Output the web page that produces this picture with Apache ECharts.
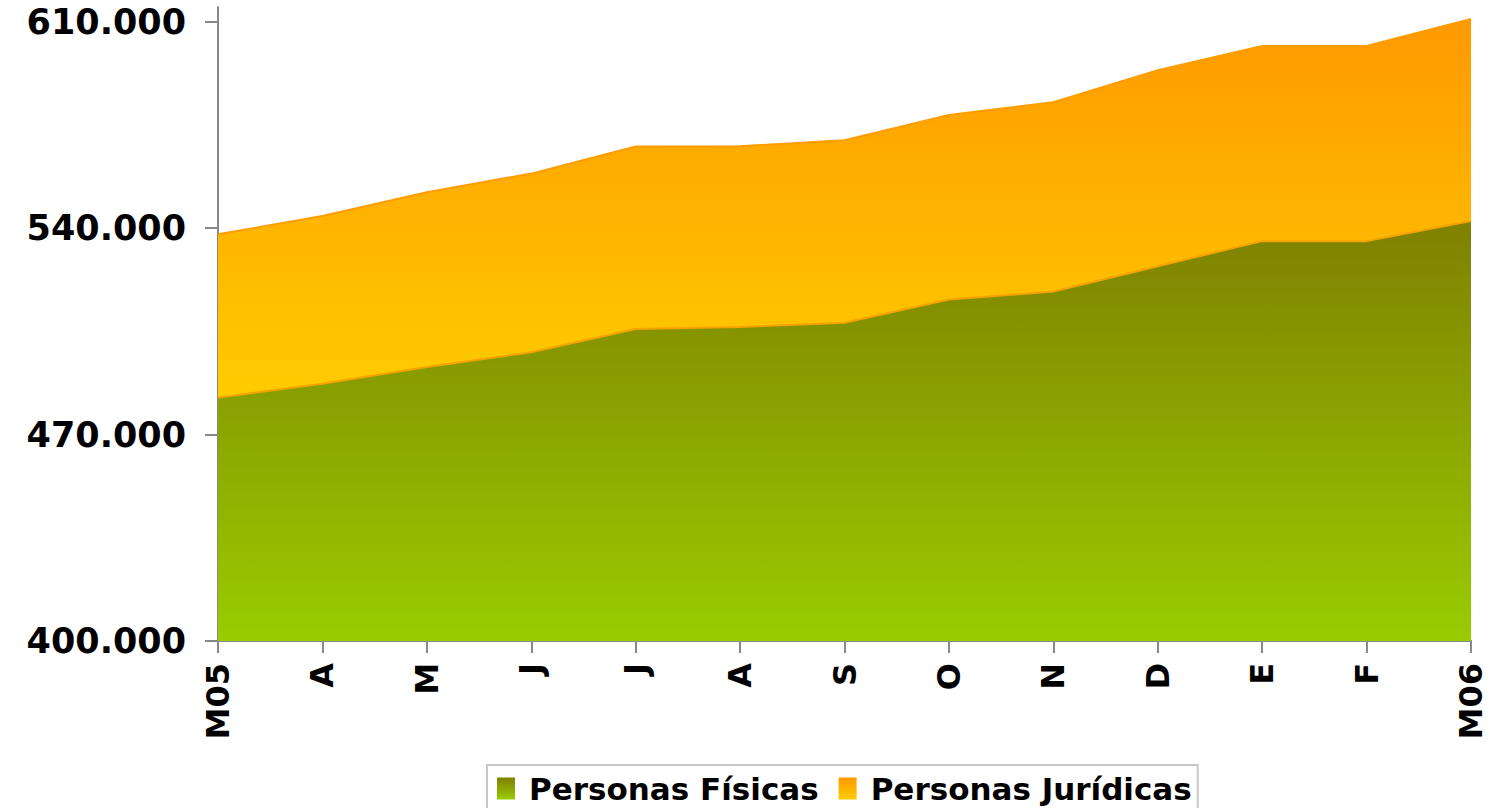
<!DOCTYPE html>
<html>
<head>
<meta charset="utf-8">
<script src="https://cdn.jsdelivr.net/npm/echarts@6/dist/echarts.min.js"></script>
<style>
  html, body { margin: 0; padding: 0; background: #fff; }
  #chart { width: 1490px; height: 808px; }
</style>
</head>
<body>
<div id="chart"></div>
<script>
// meses (marzo 05 a marzo 06)
const meses = ['M05', 'A', 'M', 'J', 'J', 'A', 'S', 'O', 'N', 'D', 'E', 'F', 'M06']
// valores
const personasFisicas = [482600, 487200, 492900, 497900, 505800, 506500, 507900, 515800, 518500, 527100, 535600, 535600, 542400]
const personasJuridicas = [55300, 56900, 59300, 60600, 61900, 61300, 61900, 62600, 64200, 66500, 66200, 66200, 68500]
// marcas del eje Y
const yTicks = [400000, 470000, 540000, 610000]

const fuente = 'DejaVu Sans'

// formato 610.000
function formatoMiles(v) {
    return String(v).replace(/\B(?=(\d{3})+(?!\d))/g, '.')
}

function degradado(arriba, abajo) {
    return new echarts.graphic.LinearGradient(0, 0, 0, 1, [
        { offset: 0, color: arriba },
        { offset: 1, color: abajo }
    ])
}

const verde = degradado('#7f8000', '#99cc00')
const naranja = degradado('#ff9900', '#ffcc00')

let chart = echarts.init(document.getElementById('chart'), null, { renderer: 'svg' })
chart.setOption({
    animation: false,
    grid: {
        left: 218,
        right: 19,
        top: 7,
        bottom: 167,
        outerBoundsMode: 'none'
    },
    legend: {
        left: 487,
        top: 765,
        icon: 'rect',
        itemWidth: 18,
        itemHeight: 22,
        itemGap: 20,
        padding: [8, 6, 14, 10],
        borderColor: '#c8c8c8',
        borderWidth: 2,
        textStyle: {
            fontFamily: fuente,
            fontWeight: 'bold',
            fontSize: 31,
            color: '#000',
            padding: [0, 0, 0, 9]
        },
        data: ['Personas Físicas', 'Personas Jurídicas']
    },
    xAxis: {
        type: 'category',
        boundaryGap: false,     // los puntos en los bordes
        data: meses,
        axisLine: { lineStyle: { color: '#888', width: 2 } },
        axisTick: { length: 12, lineStyle: { color: '#888', width: 2 } },
        axisLabel: {
            rotate: 90,
            margin: 22,
            interval: 0,
            fontFamily: fuente,
            fontWeight: 'bold',
            fontSize: 32,
            color: '#000'
        },
        splitLine: { show: false }
    },
    yAxis: {
        type: 'value',
        min: 400000,
        max: 615000,
        interval: 70000,
        axisLine: { show: true, lineStyle: { color: '#888', width: 2 } },
        axisTick: {
            show: true,
            length: 13,
            customValues: yTicks,
            lineStyle: { color: '#888', width: 2 }
        },
        axisLabel: {
            customValues: yTicks,
            margin: 32,
            fontFamily: fuente,
            fontWeight: 'bold',
            fontSize: 35,
            color: '#000',
            formatter: formatoMiles
        },
        splitLine: { show: false }
    },
    series: [
        {
            name: 'Personas Físicas',
            type: 'line',
            stack: 'total',
            showSymbol: false,
            itemStyle: { color: verde },
            lineStyle: { color: '#f5a300', width: 2 },
            areaStyle: { color: verde, opacity: 1 },
            data: personasFisicas
        },
        {
            name: 'Personas Jurídicas',
            type: 'line',
            stack: 'total',
            showSymbol: false,
            itemStyle: { color: naranja },
            lineStyle: { color: '#ff9d00', width: 2 },
            areaStyle: { color: naranja, opacity: 1 },
            data: personasJuridicas
        }
    ]
})
</script>
</body>
</html>
